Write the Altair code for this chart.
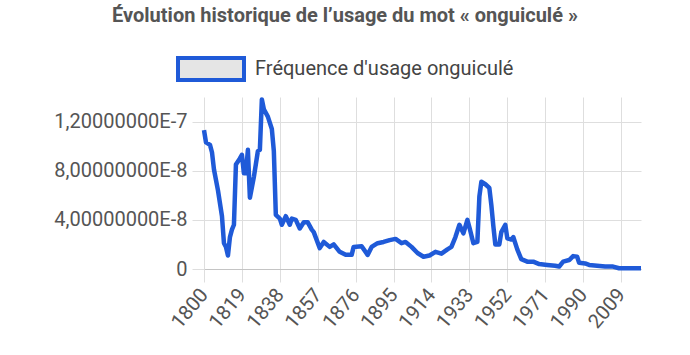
import altair as alt
import pandas as pd

years = [1800, 1801, 1803, 1804, 1805, 1807, 1809, 1810, 1811, 1812, 1813, 1814, 1815,
         1816, 1818, 1819, 1820, 1821, 1822, 1823, 1825, 1827, 1828, 1829, 1830, 1832,
         1834, 1835, 1836, 1838, 1839, 1841, 1843, 1844, 1846, 1848, 1850, 1852, 1854,
         1855, 1858, 1860, 1863, 1865, 1868, 1871, 1874, 1875, 1879, 1882, 1884, 1887,
         1890, 1893, 1896, 1899, 1901, 1904, 1907, 1910, 1913, 1916, 1919, 1922, 1924,
         1926, 1928, 1930, 1932, 1933, 1935, 1937, 1938, 1939, 1941, 1943, 1944, 1945,
         1946, 1948, 1949, 1951, 1952, 1954, 1955, 1957, 1959, 1962, 1965, 1968, 1972,
         1976, 1978, 1980, 1983, 1985, 1987, 1988, 1991, 1993, 1997, 2001, 2005, 2008,
         2013, 2019]
freq_e8 = [11.3, 10.3, 10.1, 9.5, 8.1, 6.4, 4.3, 2.1, 1.8, 1.1, 2.6, 3.2, 3.6,
           8.5, 9.0, 9.3, 7.8, 7.8, 9.7, 5.8, 7.5, 9.6, 9.7, 13.8, 13.0, 12.4,
           11.4, 9.6, 4.4, 4.1, 3.6, 4.3, 3.6, 4.1, 4.0, 3.3, 3.8, 3.8, 3.2,
           3.0, 1.7, 2.2, 1.8, 2.0, 1.4, 1.15, 1.15, 1.8, 1.85, 1.15, 1.8, 2.1,
           2.2, 2.35, 2.45, 2.1, 2.2, 1.8, 1.3, 1.0, 1.1, 1.4, 1.25, 1.6, 1.8,
           2.6, 3.6, 2.9, 4.0, 3.4, 2.1, 2.2, 5.9, 7.1, 6.9, 6.6, 5.2, 3.5,
           2.0, 2.0, 3.0, 3.6, 2.5, 2.4, 2.6, 1.6, 0.8, 0.6, 0.6, 0.4, 0.33,
           0.27, 0.2, 0.6, 0.73, 1.05, 1.0, 0.5, 0.45, 0.33, 0.27, 0.2, 0.2, 0.06,
           0.06, 0.06]
x_ticks = [1800, 1819, 1838, 1857, 1876, 1895, 1914, 1933, 1952, 1971, 1990, 2009]
y_ticks = [0, 4e-8, 8e-8, 1.2e-7]
series_name = "Fréquence d'usage onguiculé"
title_text = "Évolution historique de l’usage du mot « onguiculé »"

df = pd.DataFrame({
    "annee": years,
    "frequence": [v * 1e-8 for v in freq_e8],
    "serie": [series_name] * len(years),
})

BLUE = "#1f5ad8"
FONT = "Roboto"

chart = alt.Chart(df).mark_line(strokeWidth=4.5, strokeJoin="round").encode(
    x=alt.X("annee:Q",
            scale=alt.Scale(domain=[1800, 2019], nice=False, zero=False),
            axis=alt.Axis(values=x_ticks, format="d", labelAngle=-50, title=None,
                          labelFontSize=20, labelColor="#555", labelFont=FONT,
                          labelOverlap=False,
                          grid=True, gridColor="#dedede", tickColor="#dedede",
                          tickSize=13, domainColor="#c4c4c4", labelPadding=9)),
    y=alt.Y("frequence:Q",
            scale=alt.Scale(domain=[0, 1.4e-7], nice=False),
            axis=alt.Axis(values=y_ticks, title=None, domain=False,
                          labelExpr="datum.value == 0 ? '0' : upper(replace(format(datum.value, '.8e'), '.', ','))",
                          labelFontSize=20, labelColor="#555", labelFont=FONT,
                          grid=True, gridColor="#dedede", tickColor="#dedede",
                          tickSize=12, labelPadding=5)),
    color=alt.Color("serie:N", scale=alt.Scale(range=[BLUE]),
                    legend=alt.Legend(title=None, orient="none", legendX=-28, legendY=-63,
                                      symbolType="M-1,-0.333H1V0.333H-1Z", symbolSize=4356,
                                      symbolStrokeWidth=4, symbolStrokeColor=BLUE,
                                      symbolFillColor="#e5e5e5", labelFontSize=20,
                                      labelColor="#444", labelFont=FONT, labelOffset=9,
                                      labelLimit=500, padding=0)),
).properties(
    width=437,
    height=172,
    title=alt.TitleParams(title_text, anchor="middle", frame="group", dx=-77.5,
                          fontSize=20, fontWeight="bold", color="#555", font=FONT,
                          offset=8),
    autosize=alt.AutoSizeParams(type="none"),
    padding={"left": 204, "top": 97, "right": 49, "bottom": 86},
).configure_view(stroke=None)

chart.save("out.html", embed_options={"renderer": "svg", "actions": False})
